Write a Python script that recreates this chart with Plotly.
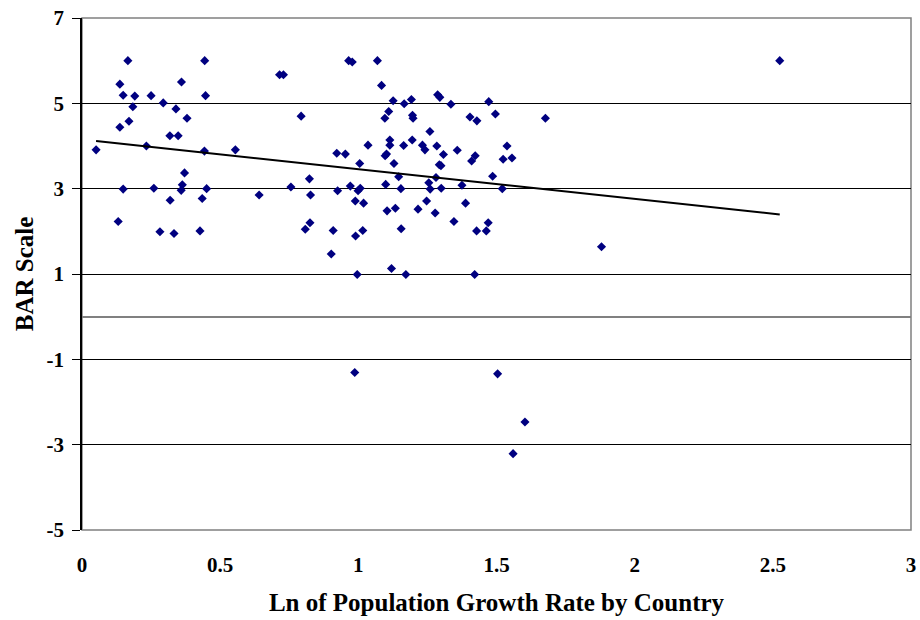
import numpy as np
import plotly.graph_objects as go

# ln of population growth rate by country vs BAR scale
growth_ln = [
    0.166, 0.444, 0.715, 0.729, 0.137, 0.360, 0.149, 0.191, 0.250, 0.447,
    0.294, 0.184, 0.340, 0.380, 0.170, 0.137, 0.318, 0.348, 0.051, 0.233,
    0.443, 0.555, 0.371, 0.363, 0.149, 0.260, 0.359, 0.451, 0.319, 0.435,
    0.641, 0.131, 0.282, 0.333, 0.427,
    0.965, 0.978, 1.069, 1.084, 1.126, 1.166, 1.192, 0.793, 1.110, 1.096,
    1.196, 1.198, 1.114, 1.114, 1.035, 1.164, 1.195, 0.922, 0.953, 1.102,
    1.097, 1.005, 1.129, 0.823, 1.146, 0.756, 0.971, 1.099, 1.154, 0.925,
    0.999, 1.007, 0.827, 0.989, 1.019, 1.104, 1.134, 1.216, 0.825, 0.808,
    0.909, 0.990, 1.016, 1.155, 0.902, 0.996, 1.120, 1.172,
    1.287, 1.295, 1.335, 1.472, 1.404, 1.429, 1.496, 1.677, 1.259, 1.232,
    1.241, 1.284, 1.358, 1.308, 1.538, 1.423, 1.410, 1.524, 1.556, 1.293,
    1.299, 1.281, 1.255, 1.260, 1.300, 1.375, 1.486, 1.521, 1.247, 1.278,
    1.388, 1.346, 1.428, 1.463, 1.470, 1.421,
    1.880, 0.987, 1.504, 1.603, 1.560, 2.525,
]
bar_scale = [
    6.00, 6.00, 5.67, 5.67, 5.45, 5.50, 5.19, 5.17, 5.18, 5.18,
    5.01, 4.92, 4.87, 4.65, 4.58, 4.44, 4.24, 4.24, 3.91, 4.00,
    3.88, 3.91, 3.37, 3.09, 2.99, 3.01, 2.96, 3.00, 2.73, 2.77,
    2.85, 2.23, 1.99, 1.95, 2.01,
    6.00, 5.97, 6.00, 5.42, 5.06, 4.99, 5.09, 4.70, 4.81, 4.65,
    4.72, 4.65, 4.14, 4.02, 4.02, 4.01, 4.14, 3.83, 3.81, 3.81,
    3.77, 3.59, 3.59, 3.23, 3.28, 3.04, 3.06, 3.10, 3.00, 2.95,
    2.95, 3.01, 2.85, 2.71, 2.66, 2.48, 2.54, 2.52, 2.20, 2.05,
    2.02, 1.89, 2.02, 2.06, 1.47, 0.99, 1.13, 0.99,
    5.20, 5.14, 4.98, 5.04, 4.68, 4.59, 4.75, 4.65, 4.34, 4.02,
    3.91, 4.00, 3.90, 3.80, 4.00, 3.77, 3.65, 3.69, 3.72, 3.56,
    3.54, 3.26, 3.14, 2.99, 3.01, 3.08, 3.29, 3.00, 2.71, 2.43,
    2.66, 2.23, 2.01, 2.01, 2.20, 0.99,
    1.64, -1.31, -1.34, -2.47, -3.21, 6.00,
]
y_ticks = [-5, -3, -1, 1, 3, 5, 7]
y_labels = ["-5", "-3", "-1", "1", "3", "5", "7"]
x_ticks = [0, 0.5, 1, 1.5, 2, 2.5, 3]
x_labels = ["0", "0.5", "1", "1.5", "2", "2.5", "3"]

x = np.array(growth_ln)
y = np.array(bar_scale)
slope, intercept = np.polyfit(x, y, 1)
trend_x = np.array([x.min(), x.max()])
trend_y = intercept + slope * trend_x

font = dict(family="Times New Roman, Liberation Serif, serif", color="black", weight="bold")

fig = go.Figure()
fig.add_trace(go.Scatter(
    x=growth_ln, y=bar_scale, mode="markers",
    marker=dict(symbol="diamond", size=7, color="#000080"),
    showlegend=False, cliponaxis=False,
))
fig.add_trace(go.Scatter(
    x=trend_x, y=trend_y, mode="lines",
    line=dict(color="black", width=2),
    showlegend=False,
))

# plot area border (gray)
fig.add_shape(type="rect", xref="paper", yref="paper", x0=0, y0=0, x1=1, y1=1,
              line=dict(color="#808080", width=1.5), layer="below")

fig.update_layout(
    width=920, height=620,
    margin=dict(l=82, r=9, t=18, b=90),
    paper_bgcolor="white", plot_bgcolor="white",
    font=font,
)
fig.update_xaxes(
    range=[0, 3], tickvals=x_ticks, ticktext=x_labels,
    showgrid=False, zeroline=False, showline=False, ticks="",
    ticklabelstandoff=20, automargin=False,
    tickfont=dict(size=21, **font),
    title=dict(text="Ln of Population Growth Rate by Country", font=dict(size=25, **font), standoff=17),
)
fig.update_yaxes(
    range=[-5, 7], tickvals=y_ticks, ticktext=y_labels,
    showgrid=True, gridcolor="black", gridwidth=1,
    zeroline=True, zerolinecolor="#808080", zerolinewidth=2,
    showline=True, linecolor="black", linewidth=1.5,
    ticks="outside", ticklen=8, tickcolor="black", tickwidth=1,
    ticklabelstandoff=4, automargin=False,
    tickfont=dict(size=21, **font),
    title=dict(text="BAR Scale", font=dict(size=25, **font), standoff=6),
)

# drop the page's default 8px body margin so the figure fills the window
fig.write_html("out.html", config={"displayModeBar": False},
               post_script="document.body.style.margin = '0';")
